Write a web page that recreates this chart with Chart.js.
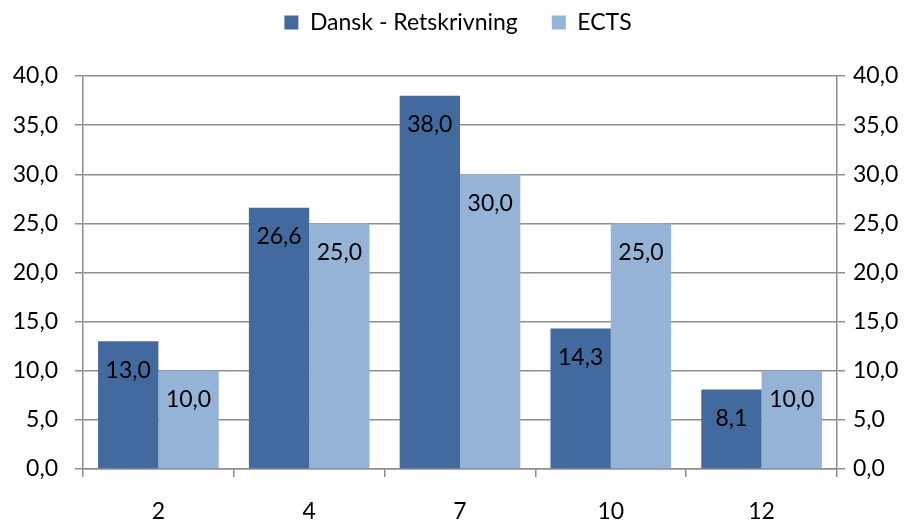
<!DOCTYPE html>
<html>
<head>
<meta charset="utf-8">
<script src="https://cdn.jsdelivr.net/npm/chart.js@4/dist/chart.umd.min.js"></script>
<style>
  html, body { margin: 0; padding: 0; background: #fff; }
  #wrap { width: 916px; height: 526px; }
</style>
</head>
<body>
<div id="wrap"><canvas id="myChart" width="916" height="526"></canvas></div>
<script>
const categories = ["2", "4", "7", "10", "12"]
const danskValues = [13.0, 26.6, 38.0, 14.3, 8.1]
const ectsValues = [10.0, 25.0, 30.0, 25.0, 10.0]
const seriesNames = ["Dansk - Retskrivning", "ECTS"]

const fontFamily = "Lato, 'Noto Sans', sans-serif"
const fontSize = 23
const gridColor = "#8e8e8e"
const fmt = (v) => Number(v).toFixed(1).replace(".", ",")

// labels drawn inside the top of each bar
const barLabels = {
  id: "barLabels",
  afterDatasetsDraw(chart) {
    const { ctx } = chart
    ctx.save()
    ctx.font = fontSize + "px " + fontFamily
    ctx.fillStyle = "#000"
    ctx.textAlign = "center"
    ctx.textBaseline = "middle"
    chart.data.datasets.forEach((ds, i) => {
      chart.getDatasetMeta(i).data.forEach((bar, j) => {
        ctx.fillText(fmt(ds.data[j]), bar.x, bar.y + 29)
      })
    })
    ctx.restore()
  },
}

// extra room under the legend
const legendGap = {
  id: "legendGap",
  beforeInit(chart) {
    const fit = chart.legend.fit
    chart.legend.fit = function () {
      fit.bind(this)()
      this.height += 32
    }
  },
}

const ctx = document.getElementById("myChart")
new Chart(ctx, {
  type: "bar",
  data: {
    labels: categories,
    datasets: [
      {
        label: seriesNames[0],
        data: danskValues,
        backgroundColor: "#426A9E",
        categoryPercentage: 0.8,
        barPercentage: 1.0,
      },
      {
        label: seriesNames[1],
        data: ectsValues,
        backgroundColor: "#95B3D7",
        categoryPercentage: 0.8,
        barPercentage: 1.0,
        yAxisID: "y2",
      },
    ],
  },
  options: {
    responsive: false,
    animation: false,
    layout: { padding: { top: -23, left: 0, right: 0, bottom: 0 } },
    plugins: {
      legend: {
        position: "top",
        labels: {
          boxWidth: 14,
          boxHeight: 14,
          padding: 34,
          color: "#000",
          font: { family: fontFamily, size: fontSize },
        },
      },
      tooltip: { enabled: false },
    },
    scales: {
      x: {
        grid: {
          offset: true,
          drawOnChartArea: false,
          color: gridColor,
          lineWidth: 1.5,
          tickLength: 8,
        },
        border: { color: gridColor, width: 1.5 },
        ticks: {
          color: "#000",
          padding: 21,
          font: { family: fontFamily, size: fontSize },
        },
        afterFit(scale) { scale.height = 57 },
      },
      y: {
        min: 0,
        max: 40,
        ticks: {
          stepSize: 5,
          color: "#000",
          padding: 17,
          font: { family: fontFamily, size: fontSize },
          callback: (v) => fmt(v),
        },
        grid: { color: gridColor, lineWidth: 1.5, tickLength: 8 },
        border: { color: gridColor, width: 1.5 },
        afterFit(scale) { scale.width = 83 },
      },
      y2: {
        position: "right",
        min: 0,
        max: 40,
        ticks: {
          stepSize: 5,
          color: "#000",
          padding: 8,
          font: { family: fontFamily, size: fontSize },
          callback: (v) => fmt(v),
        },
        grid: { drawOnChartArea: false, color: gridColor, lineWidth: 1.5, tickLength: 8 },
        border: { color: gridColor, width: 1.5 },
        afterFit(scale) { scale.width = 79 },
      },
    },
  },
  plugins: [barLabels, legendGap],
})
</script>
</body>
</html>
